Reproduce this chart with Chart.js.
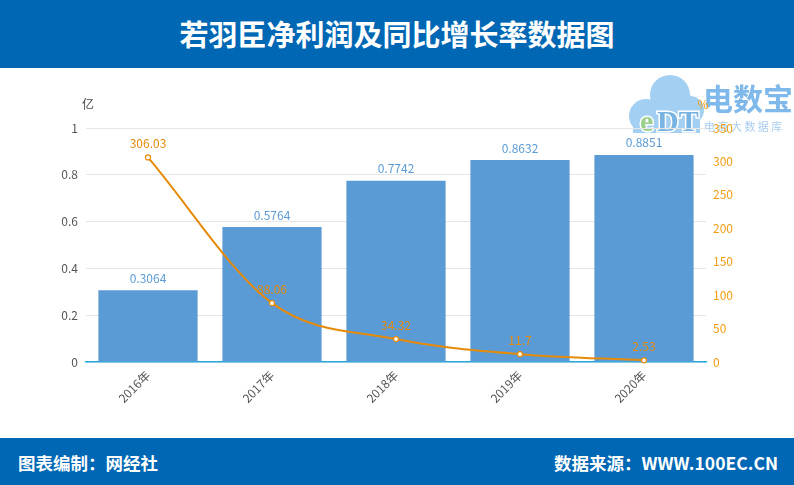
<!DOCTYPE html>
<html>
<head>
<meta charset="utf-8">
<script src="https://cdn.jsdelivr.net/npm/chart.js@4.4.1/dist/chart.umd.min.js"></script>
<style>
  html,body{margin:0;padding:0;width:794px;height:485px;overflow:hidden;background:#fff;font-family:'Noto Sans CJK SC','Noto Sans',sans-serif;}
  .head{position:absolute;left:0;top:0;width:794px;height:68px;background:#0067b5;color:#fff;font-weight:bold;font-size:29px;line-height:66px;text-align:center;}
  .wrap{position:absolute;left:0;top:68px;width:794px;height:370px;}
  .foot{position:absolute;left:0;top:438px;width:794px;height:47px;background:#0067b5;color:#fff;font-weight:bold;font-size:17.5px;line-height:50px;}
  .foot .l{position:absolute;left:18px;}
  .foot .r{position:absolute;right:16px;}
</style>
</head>
<body>
<div class="head">若羽臣净利润及同比增长率数据图</div>
<div class="wrap"><canvas id="c" width="794" height="370"></canvas></div>
<div class="foot"><span class="l">图表编制：网经社</span><span class="r">数据来源：WWW.100EC.CN</span></div>
<script>
// ── Data ─────────────────────────────────────
const years = ['2016年','2017年','2018年','2019年','2020年'];
const profit = [0.3064, 0.5764, 0.7742, 0.8632, 0.8851];   // 亿
const growth = [306.03, 88.06, 34.32, 11.7, 2.53];          // %
const profitLabels = ['0.3064','0.5764','0.7742','0.8632','0.8851'];
const growthLabels = ['306.03','88.06','34.32','11.7','2.53'];

const font = "'Noto Sans CJK SC','Noto Sans',sans-serif";
const barColor = '#5b9bd5', lineColor = '#e68a0a', tickOrange = '#f39c12';

// ── Plugins ──────────────────────────────────
const logo = {
  id:'logo',
  beforeDraw(chart){
    const g = chart.ctx;
    g.save();
    // cloud
    g.fillStyle = '#a3cff2';
    g.beginPath();
    g.arc(646, 48, 17, 0, Math.PI*2);
    g.arc(670, 27, 20, 0, Math.PI*2);
    g.arc(690, 42, 14, 0, Math.PI*2);
    g.fill();
    g.fillRect(633, 44, 67, 21);
    // eDT
    g.font = 'bold 30px "Liberation Serif",serif';
    g.textBaseline = 'alphabetic';
    g.lineWidth = 3;
    g.strokeStyle = '#ffffff';
    g.strokeText('e', 640, 63);
    g.strokeText('DT', 657, 63);
    g.fillStyle = '#9bcf8c';
    g.fillText('e', 640, 63);
    g.fillStyle = '#79b3e2';
    g.fillText('DT', 657, 63);
    // text
    g.font = 'bold 30px ' + font;
    g.fillStyle = '#7fb8ea';
    g.fillText('电数宝', 703, 42);
    g.font = '11px ' + font;
    g.fillStyle = '#a8cdef';
    g.fillText('电 商 大 数 据 库', 704, 63);
    g.restore();
  }
};

const labels = {
  id:'labels',
  afterDatasetsDraw(chart){
    const g = chart.ctx;
    g.save();
    g.font = '12px ' + font;
    g.textAlign = 'center';
    g.textBaseline = 'middle';
    chart.getDatasetMeta(1).data.forEach((b,i)=>{
      g.fillStyle = barColor;
      g.fillText(profitLabels[i], b.x, b.y - 12);
    });
    chart.getDatasetMeta(0).data.forEach((p,i)=>{
      g.fillStyle = lineColor;
      g.fillText(growthLabels[i], p.x, p.y - 14);
    });
    // axis units
    g.fillStyle = '#444';
    g.fillText('亿', 88, 36);
    g.fillStyle = tickOrange;
    g.fillText('%', 703, 36);
    g.restore();
  }
};

// ── Chart ────────────────────────────────────
new Chart(document.getElementById('c'), {
  data:{
    labels:years,
    datasets:[
      {type:'line', data:growth, yAxisID:'y1', borderColor:lineColor, borderWidth:2,
       pointRadius:2.5, pointBackgroundColor:'#fff', pointBorderColor:lineColor, pointBorderWidth:1.2,
       cubicInterpolationMode:'monotone', clip:false, order:0},
      {type:'bar', data:profit, yAxisID:'y', backgroundColor:barColor,
       barPercentage:0.8, categoryPercentage:1, order:1}
    ]
  },
  options:{
    responsive:false, animation:false,
    layout:{padding:{top:60,left:0,right:0,bottom:0}},
    plugins:{legend:{display:false}, tooltip:{enabled:false}},
    scales:{
      x:{
        grid:{display:false, drawTicks:false},
        border:{color:'#29abe2', width:1.5},
        ticks:{color:'#555', font:{family:font,size:12}, maxRotation:45, minRotation:45, padding:6},
        afterFit:s=>{s.height = 76;}
      },
      y:{
        position:'left', min:0, max:1,
        ticks:{stepSize:0.2, color:'#555', font:{family:font,size:12}, padding:8,
               callback:v=>String(Math.round(v*10)/10)},
        grid:{color:'#e6e6e6', drawTicks:false},
        border:{display:false},
        afterFit:s=>{s.width = 86;}
      },
      y1:{
        position:'right', min:0, max:350,
        ticks:{stepSize:50, color:tickOrange, font:{family:font,size:12}, padding:7},
        grid:{display:false, drawTicks:false},
        border:{display:false},
        afterFit:s=>{s.width = 88;}
      }
    }
  },
  plugins:[logo, labels]
});
</script>
</body>
</html>
